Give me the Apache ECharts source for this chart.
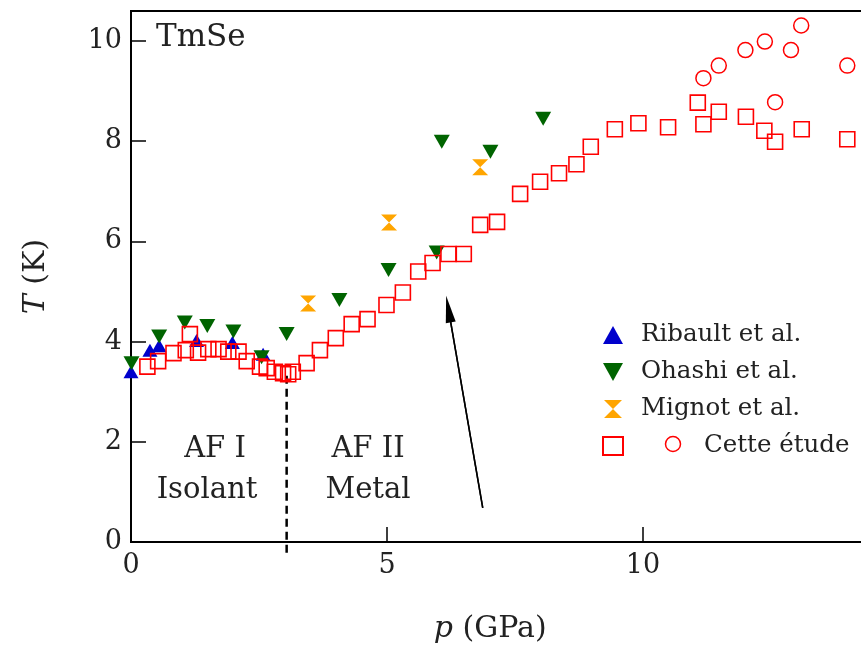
<!DOCTYPE html>
<html><head><meta charset="utf-8">
<script src="https://cdn.jsdelivr.net/npm/echarts@6/dist/echarts.min.js"></script>
<style>html,body{margin:0;padding:0;background:#fff;overflow:hidden;width:861px;height:655px}#c{width:900px;height:655px}</style>
</head><body><div id="c"></div>
<script>
// ---- data (p in GPa, T in K) ----
const ribault = [[0.0,3.40],[0.37,3.83],[0.55,3.92],[1.28,4.02],[1.98,3.98],[2.58,3.75]];
const ohashi = [[0.01,3.57],[0.55,4.10],[1.05,4.38],[1.49,4.31],[2.0,4.20],[2.55,3.69],[3.04,4.15],[4.07,4.83],[5.03,5.43],[5.97,5.78],[6.07,7.99],[7.02,7.79],[8.05,8.45]];
const mignot = [[3.46,4.76],[5.04,6.38],[6.82,7.48]];
const etudeSquares = [[0.32,3.50],[0.53,3.61],[0.83,3.77],[1.07,3.83],[1.15,4.15],[1.31,3.78],[1.51,3.85],[1.71,3.85],[1.90,3.80],[2.10,3.80],[2.26,3.61],[2.52,3.50],[2.65,3.47],[2.81,3.40],[2.97,3.37],[3.07,3.35],[3.16,3.40],[3.43,3.57],[3.69,3.83],[4.00,4.07],[4.31,4.35],[4.62,4.45],[4.99,4.73],[5.31,4.98],[5.61,5.40],[5.89,5.57],[6.20,5.75],[6.50,5.75],[6.82,6.33],[7.15,6.39],[7.60,6.95],[7.99,7.19],[8.36,7.36],[8.70,7.54],[8.98,7.89],[9.45,8.24],[9.91,8.36],[10.49,8.28],[11.07,8.77],[11.18,8.34],[11.48,8.59],[12.01,8.49],[12.37,8.21],[12.58,7.99],[13.10,8.24],[13.99,8.04]];
const etudeCircles = [[11.18,9.26],[11.48,9.51],[12.00,9.82],[12.38,9.99],[12.58,8.78],[12.89,9.82],[13.09,10.31],[13.99,9.51]];
const phaseBoundary = [[3.04,3.32],[3.04,-0.22]];
const arrowLine = [[6.87,0.68],[6.20,4.65]];
const xTicks = [0,5,10];
const yTicks = [0,2,4,6,8,10];
const legendNames = ['Ribault et al.','Ohashi et al.','Mignot et al.','Cette étude'];

const FONT = 'DejaVu Serif';
const chart = echarts.init(document.getElementById('c'), null, {renderer:'canvas'});
const hourglass = 'path://M0,0L10,0L5,5L10,10L0,10L5,5Z';
const downTri = 'path://M0,0L10,0L5,9Z';

chart.setOption({
  animation:false,
  backgroundColor:'#fff',
  textStyle:{fontFamily:FONT},
  grid:{left:131, top:11, bottom:113, right:26.6, show:true, borderColor:'#000', borderWidth:2, backgroundColor:'transparent'},
  xAxis:{
    type:'value', min:0, max:14.5,
    axisLine:{show:true, lineStyle:{color:'#000', width:2}},
    axisTick:{show:true, inside:true, length:15, customValues:xTicks, lineStyle:{color:'#000', width:1.5}},
    axisLabel:{customValues:xTicks, fontFamily:FONT, fontSize:27, color:'#222', margin:10},
    splitLine:{show:false},
    name:'{i|p} (GPa)', nameLocation:'middle', nameGap:72,
    nameTextStyle:{fontFamily:FONT, fontSize:30, color:'#222', padding:[0,24,0,0], rich:{i:{fontStyle:'italic', fontFamily:FONT, fontSize:30, color:'#222'}}}
  },
  yAxis:{
    type:'value', min:0, max:10.6,
    axisLine:{show:true, lineStyle:{color:'#000', width:2}},
    axisTick:{show:true, inside:true, length:15, customValues:yTicks, lineStyle:{color:'#000', width:1.5}},
    axisLabel:{customValues:yTicks, fontFamily:FONT, fontSize:27, color:'#222', margin:9},
    splitLine:{show:false},
    name:'{i|T} (K)', nameLocation:'middle', nameGap:80, nameRotate:90,
    nameTextStyle:{fontFamily:FONT, fontSize:30, color:'#222', rich:{i:{fontStyle:'italic', fontFamily:FONT, fontSize:30, color:'#222'}}}
  },
  legend:{
    orient:'vertical', left:597, top:317, itemWidth:20, itemHeight:18, itemGap:11,
    textStyle:{fontFamily:FONT, fontSize:24.5, color:'#222', lineHeight:26, padding:[0,0,0,13]},
    data:[
      {name:legendNames[0]},{name:legendNames[1]},{name:legendNames[2]},
      {name:legendNames[3], textStyle:{padding:[0,0,0,76]}}
    ],
    selectedMode:false
  },
  graphic:[
    {type:'text', left:156, top:22, style:{text:'TmSe', font:'31px "DejaVu Serif"', fill:'#222'}},
    {type:'text', x:215, y:449, style:{text:'AF I', font:'29px "DejaVu Serif"', fill:'#222', align:'center', verticalAlign:'middle'}},
    {type:'text', x:207, y:490, style:{text:'Isolant', font:'29px "DejaVu Serif"', fill:'#222', align:'center', verticalAlign:'middle'}},
    {type:'text', x:368, y:449, style:{text:'AF II', font:'29px "DejaVu Serif"', fill:'#222', align:'center', verticalAlign:'middle'}},
    {type:'text', x:368, y:490, style:{text:'Metal', font:'29px "DejaVu Serif"', fill:'#222', align:'center', verticalAlign:'middle'}},
    {type:'circle', shape:{cx:673, cy:444, r:7.5}, style:{fill:'none', stroke:'#ff0000', lineWidth:1.5}}
  ],
  series:[
    {name:'boundary', type:'line', data:phaseBoundary, symbol:'none', clip:false, silent:true,
     lineStyle:{color:'#000', width:2.5, type:[8,5]}, z:1},
    {name:'arrow', type:'line', data:arrowLine, symbol:'none', clip:false, silent:true,
     lineStyle:{color:'#000', width:1.5}, z:1,
     markLine:{silent:true, symbol:['none','triangle'], symbolSize:[10,27], label:{show:false},
       lineStyle:{color:'#000', width:1.5, type:'solid'},
       data:[[{coord:arrowLine[0]},{coord:arrowLine[1]}]]}},
    {name:legendNames[0], type:'scatter', data:ribault, symbol:'triangle', symbolSize:[15,13],
     itemStyle:{color:'#0000cc', opacity:1}, z:2},
    {name:legendNames[1], type:'scatter', data:ohashi, symbol:downTri, symbolSize:[16,14],
     itemStyle:{color:'#006400', opacity:1}, z:3},
    {name:legendNames[2], type:'scatter', data:mignot, symbol:hourglass, symbolSize:[16,16],
     itemStyle:{color:'#ffa500', opacity:1}, z:4},
    {name:legendNames[3], type:'scatter', data:etudeSquares, symbol:'rect', symbolSize:15,
     itemStyle:{color:'rgba(255,255,255,0)', borderColor:'#ff0000', borderWidth:1.6, opacity:1}, z:5},
    {name:'Cette étude (cercles)', type:'scatter', data:etudeCircles, symbol:'circle', symbolSize:15,
     itemStyle:{color:'rgba(255,255,255,0)', borderColor:'#ff0000', borderWidth:1.5, opacity:1}, z:5}
  ]
});
</script></body></html>
